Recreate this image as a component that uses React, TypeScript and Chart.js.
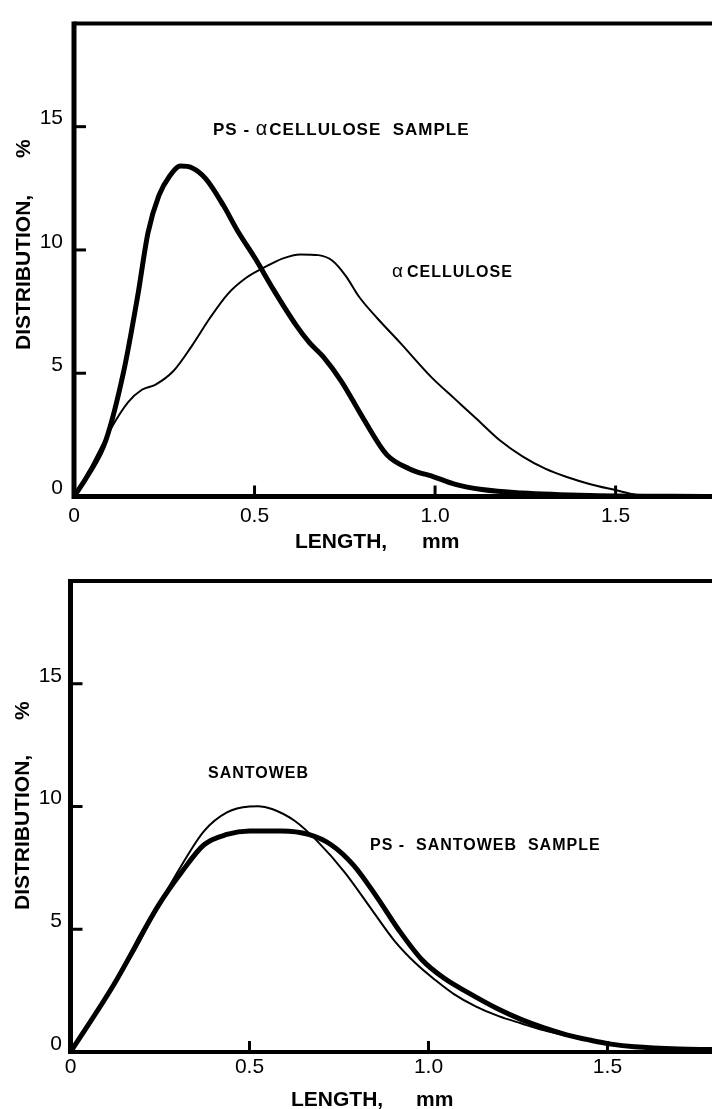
import React, { useEffect, useRef } from 'react';
import { Chart, registerables } from 'chart.js';

Chart.register(...registerables);

const FONT = '"Liberation Sans", Arial, Helvetica, sans-serif';

// ---------- Data: top panel ----------
const psCelluloseX = [0, 0.038, 0.088, 0.138, 0.176, 0.205, 0.235, 0.265, 0.295, 0.326, 0.364, 0.414, 0.452, 0.502, 0.552, 0.615, 0.652, 0.69, 0.74, 0.803, 0.866, 0.928, 1.0, 1.054, 1.13, 1.24, 1.43, 1.77];
const psCelluloseY = [0, 0.85, 2.27, 5.1, 8.1, 10.7, 12.2, 13.0, 13.4, 13.33, 12.9, 11.8, 10.8, 9.65, 8.4, 6.95, 6.24, 5.67, 4.68, 3.12, 1.7, 1.13, 0.78, 0.5, 0.28, 0.14, 0.04, 0];

const celluloseX = [0, 0.05, 0.1, 0.15, 0.188, 0.226, 0.276, 0.326, 0.376, 0.427, 0.477, 0.527, 0.577, 0.627, 0.677, 0.715, 0.753, 0.79, 0.84, 0.903, 0.991, 1.054, 1.117, 1.18, 1.242, 1.305, 1.367, 1.43, 1.5, 1.556, 1.62, 1.77];
const celluloseY = [0, 1.28, 2.7, 3.83, 4.33, 4.54, 5.1, 6.1, 7.23, 8.23, 8.87, 9.29, 9.65, 9.82, 9.79, 9.57, 8.94, 8.09, 7.23, 6.24, 4.82, 3.97, 3.12, 2.27, 1.63, 1.13, 0.78, 0.5, 0.26, 0.07, 0, 0];

// ---------- Data: bottom panel ----------
const santowebX = [0, 0.12, 0.184, 0.247, 0.31, 0.373, 0.437, 0.5, 0.525, 0.563, 0.627, 0.69, 0.766, 0.842, 0.905, 0.968, 1.019, 1.07, 1.133, 1.196, 1.26, 1.323, 1.386, 1.449, 1.51, 1.576, 1.64, 1.7, 1.79];
const santowebY = [0, 2.72, 4.25, 6.0, 7.6, 9.0, 9.76, 10.0, 10.01, 9.9, 9.41, 8.58, 7.32, 5.79, 4.53, 3.56, 2.93, 2.37, 1.85, 1.46, 1.16, 0.88, 0.66, 0.46, 0.31, 0.2, 0.13, 0.08, 0.05];

const psSantowebX = [0, 0.12, 0.247, 0.31, 0.373, 0.437, 0.5, 0.589, 0.665, 0.728, 0.791, 0.854, 0.918, 0.981, 1.044, 1.108, 1.196, 1.26, 1.323, 1.386, 1.449, 1.51, 1.576, 1.7, 1.79];
const psSantowebY = [0, 2.72, 6.0, 7.32, 8.44, 8.86, 9.0, 9.0, 8.86, 8.44, 7.6, 6.35, 4.95, 3.77, 3.0, 2.44, 1.74, 1.32, 0.98, 0.7, 0.49, 0.32, 0.21, 0.12, 0.1];

// ---------- Axis ticks ----------
const xTicks = [0, 0.5, 1.0, 1.5];
const xTickLabels = ['0', '0.5', '1.0', '1.5'];
const yTicks = [0, 5, 10, 15];
const yTickLabels = ['0', '5', '10', '15'];

const xTitleA = 'LENGTH,';
const xTitleB = 'mm';
const yTitleA = 'DISTRIBUTION,';
const yTitleB = '%';

const zip = (xs: number[], ys: number[]) => xs.map((x, i) => ({ x, y: ys[i] }));

type Seg = { text: string; bold: boolean; size: number; gap?: number };
type Note = { x: number; y: number; segs: Seg[] };

type Panel = {
  height: number;
  left: number;
  top: number;
  bottom: number;
  xMax: number;
  yMax: number;
  axisW: number;
  bottomW: number;
  topW: number;
  yLabelPad: number;
  xLabelPad: number;
  xTitleY: number;
  xTitleAX: number;
  xTitleBX: number;
  yTitleX: number;
  yTitleAY: number;
  yTitleBY: number;
  notes: Note[];
  series: { xs: number[]; ys: number[]; width: number; label: string }[];
};

const topPanel: Panel = {
  height: 560,
  left: 74,
  top: 15,
  bottom: 496.5,
  xMax: 1.767,
  yMax: 19.18,
  axisW: 5,
  bottomW: 5,
  topW: 4,
  yLabelPad: 11,
  xLabelPad: 7,
  xTitleY: 548,
  xTitleAX: 295,
  xTitleBX: 422,
  yTitleX: 30,
  yTitleAY: 350,
  yTitleBY: 158,
  notes: [
    {
      x: 213,
      y: 135,
      segs: [
        { text: 'PS - ', bold: true, size: 17 },
        { text: 'α', bold: false, size: 20, gap: 1 },
        { text: 'CELLULOSE  SAMPLE', bold: true, size: 17 },
      ],
    },
    {
      x: 392,
      y: 277,
      segs: [
        { text: 'α', bold: false, size: 19, gap: 3 },
        { text: 'CELLULOSE', bold: true, size: 16 },
      ],
    },
  ],
  series: [
    { xs: psCelluloseX, ys: psCelluloseY, width: 5, label: 'PS - α CELLULOSE SAMPLE' },
    { xs: celluloseX, ys: celluloseY, width: 2, label: 'α CELLULOSE' },
  ],
};

const bottomPanel: Panel = {
  height: 549,
  left: 70.5,
  top: 10.5,
  bottom: 492,
  xMax: 1.792,
  yMax: 19.18,
  axisW: 5,
  bottomW: 4,
  topW: 4,
  yLabelPad: 8.5,
  xLabelPad: 3,
  xTitleY: 546,
  xTitleAX: 291,
  xTitleBX: 416,
  yTitleX: 29,
  yTitleAY: 350,
  yTitleBY: 160,
  notes: [
    { x: 208, y: 218, segs: [{ text: 'SANTOWEB', bold: true, size: 16 }] },
    { x: 370, y: 290, segs: [{ text: 'PS -  SANTOWEB  SAMPLE', bold: true, size: 16 }] },
  ],
  series: [
    { xs: santowebX, ys: santowebY, width: 2, label: 'SANTOWEB' },
    { xs: psSantowebX, ys: psSantowebY, width: 5, label: 'PS - SANTOWEB SAMPLE' },
  ],
};

function framePlugin(p: Panel) {
  return {
    id: 'frame',
    afterDraw(chart: any) {
      const { ctx, chartArea: a, scales } = chart;
      const W = chart.width;
      ctx.save();
      ctx.strokeStyle = '#000';
      ctx.fillStyle = '#000';
      ctx.lineCap = 'butt';
      // inward ticks
      ctx.lineWidth = 3;
      yTicks.forEach((v) => {
        if (v === 0) return;
        const y = scales.y.getPixelForValue(v);
        ctx.beginPath();
        ctx.moveTo(a.left, y);
        ctx.lineTo(a.left + 12, y);
        ctx.stroke();
      });
      xTicks.forEach((v) => {
        if (v === 0) return;
        const x = scales.x.getPixelForValue(v);
        ctx.beginPath();
        ctx.moveTo(x, a.bottom);
        ctx.lineTo(x, a.bottom - 11);
        ctx.stroke();
      });
      // left axis
      ctx.lineWidth = p.axisW;
      ctx.beginPath();
      ctx.moveTo(a.left, a.top - p.topW / 2);
      ctx.lineTo(a.left, a.bottom + p.bottomW / 2);
      ctx.stroke();
      // bottom axis
      ctx.lineWidth = p.bottomW;
      ctx.beginPath();
      ctx.moveTo(a.left, a.bottom);
      ctx.lineTo(W, a.bottom);
      ctx.stroke();
      // top frame
      ctx.lineWidth = p.topW;
      ctx.beginPath();
      ctx.moveTo(a.left, a.top);
      ctx.lineTo(W, a.top);
      ctx.stroke();

      // axis titles
      ctx.font = `bold 21px ${FONT}`;
      ctx.textAlign = 'left';
      ctx.textBaseline = 'alphabetic';
      ctx.fillText(xTitleA, p.xTitleAX, p.xTitleY);
      ctx.fillText(xTitleB, p.xTitleBX, p.xTitleY);
      ctx.save();
      ctx.translate(p.yTitleX, p.yTitleAY);
      ctx.rotate(-Math.PI / 2);
      ctx.fillText(yTitleA, 0, 0);
      ctx.restore();
      ctx.save();
      ctx.translate(p.yTitleX, p.yTitleBY);
      ctx.rotate(-Math.PI / 2);
      ctx.fillText(yTitleB, 0, 0);
      ctx.restore();

      // curve annotations
      (ctx as any).letterSpacing = '1px';
      p.notes.forEach((n) => {
        let x = n.x;
        n.segs.forEach((s) => {
          ctx.font = `${s.bold ? 'bold ' : ''}${s.size}px ${FONT}`;
          ctx.fillText(s.text, x, n.y);
          x += ctx.measureText(s.text).width + (s.gap || 0);
        });
      });
      (ctx as any).letterSpacing = '0px';
      ctx.restore();
    },
  };
}

function makeConfig(p: Panel): any {
  return {
    type: 'line',
    data: {
      datasets: p.series.map((s) => ({
        label: s.label,
        data: zip(s.xs, s.ys),
        borderColor: '#000',
        backgroundColor: '#000',
        borderWidth: s.width,
        pointRadius: 0,
        fill: false,
        cubicInterpolationMode: 'monotone',
        borderJoinStyle: 'round',
        borderCapStyle: 'round',
      })),
    },
    options: {
      animation: false,
      responsive: false,
      events: [],
      layout: { padding: { top: p.top, left: 0, right: 0, bottom: 0 } },
      plugins: { legend: { display: false }, tooltip: { enabled: false }, title: { display: false } },
      scales: {
        x: {
          type: 'linear',
          min: 0,
          max: p.xMax,
          grid: { display: false, drawTicks: false },
          border: { display: false },
          afterBuildTicks: (s: any) => {
            s.ticks = xTicks.map((v) => ({ value: v }));
          },
          afterFit: (s: any) => {
            s.height = p.height - p.bottom;
          },
          ticks: {
            autoSkip: false,
            maxRotation: 0,
            padding: p.xLabelPad,
            color: '#000',
            font: { family: FONT, size: 21 },
            callback: (v: number) => xTickLabels[xTicks.indexOf(v)] ?? '',
          },
        },
        y: {
          type: 'linear',
          min: 0,
          max: p.yMax,
          grid: { display: false, drawTicks: false },
          border: { display: false },
          afterBuildTicks: (s: any) => {
            s.ticks = yTicks.map((v) => ({ value: v }));
          },
          afterFit: (s: any) => {
            s.width = p.left;
          },
          ticks: {
            autoSkip: false,
            padding: p.yLabelPad,
            labelOffset: -8,
            color: '#000',
            font: { family: FONT, size: 21 },
            callback: (v: number) => yTickLabels[yTicks.indexOf(v)] ?? '',
          },
        },
      },
    },
    plugins: [framePlugin(p)],
  };
}

function PanelChart({ panel, top }: { panel: Panel; top: number }) {
  const ref = useRef<HTMLCanvasElement | null>(null);
  useEffect(() => {
    if (!ref.current) return;
    const chart = new Chart(ref.current, makeConfig(panel));
    return () => chart.destroy();
  }, [panel]);
  return (
    <canvas
      ref={ref}
      width={712}
      height={panel.height}
      style={{ position: 'absolute', left: 0, top, width: 712, height: panel.height, display: 'block' }}
    />
  );
}

export default function App() {
  return (
    <div style={{ position: 'absolute', left: 0, top: 0, width: 712, height: 1109, background: '#fff', overflow: 'hidden' }}>
      <PanelChart panel={topPanel} top={0} />
      <PanelChart panel={bottomPanel} top={560} />
    </div>
  );
}
